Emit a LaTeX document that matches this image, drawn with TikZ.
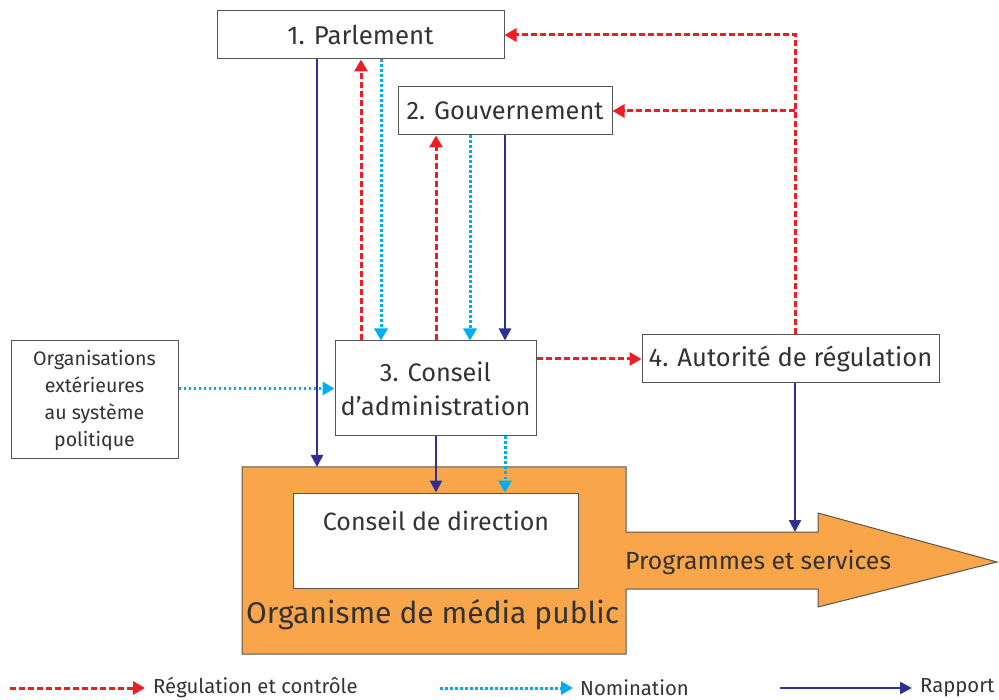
\documentclass[tikz,border=0pt]{standalone}
\usepackage{fontspec}
\setmainfont{Fira Sans}
\usetikzlibrary{arrows.meta,calc}
\definecolor{regred}{HTML}{EE1C25}
\definecolor{nomcyan}{HTML}{00AEEF}
\definecolor{rapblue}{HTML}{2E3192}
\definecolor{medorange}{HTML}{F9A54A}
\definecolor{txtgray}{HTML}{333333}
\definecolor{boxgray}{HTML}{555555}
\tikzset{
  box/.style={draw=boxgray, line width=1pt, fill=white, inner sep=0pt, text=txtgray, align=center},
  reg/.style={draw=regred, line width=3pt, dash pattern=on 6pt off 3pt, -{Triangle[length=12pt,width=13pt]}},
  nom/.style={draw=nomcyan, line width=3pt, dash pattern=on 2.5pt off 2.5pt, -{Triangle[length=12pt,width=13pt]}},
  rap/.style={draw=rapblue, line width=2.5pt, -{Triangle[length=12pt,width=12pt]}},
  lbl/.style={text=txtgray, inner sep=0pt},
}
\begin{document}
\begin{tikzpicture}[x=1pt,y=-1pt]
\useasboundingbox (0,0) rectangle (999,700);
% orange body
\draw[draw=boxgray, line width=1pt, fill=medorange]
  (242,467) -- (626,467) -- (626,532) -- (818,532) -- (818,513) -- (997,562)
  -- (818,607) -- (818,589) -- (626,589) -- (626,654) -- (242,654) -- cycle;
\coordinate (mediatop) at (317,467);
\coordinate (shafttop) at (795,532);
\node[box, minimum width=285pt, minimum height=95pt] (cdd) at (435.5,540.5) {};
\node[lbl, font=\fontsize{25}{29}\selectfont] (cddt) at (436,521) {Conseil de direction};
\node[lbl, font=\fontsize{30}{34}\selectfont, anchor=west] (medt) at (246,615) {Organisme de média public};
\node[lbl, font=\fontsize{24.8}{28}\selectfont, anchor=west] (prog) at (625,562) {Programmes et services};
% boxes
\node[box, minimum width=287pt, minimum height=48pt, font=\fontsize{25.8}{30}\selectfont] (parl) at (360.5,35) {1. Parlement};
\node[box, minimum width=214pt, minimum height=48pt, font=\fontsize{25.3}{30}\selectfont] (gouv) at (505,111) {2. Gouvernement};
\node[box, minimum width=167pt, minimum height=118pt, font=\fontsize{19.6}{27}\selectfont] (orgx) at (94.5,400) {Organisations\\extérieures\\au système\\politique};
\node[box, minimum width=201pt, minimum height=95pt, font=\fontsize{25.3}{34}\selectfont] (cons) at (435.5,388.5) {3. Conseil\\d’administration};
\node[box, minimum width=297pt, minimum height=48pt, font=\fontsize{25.6}{30}\selectfont] (autor) at (790.5,359) {4. Autorité de régulation};
% x positions
\coordinate (xa) at (317,0);
\coordinate (xb) at (361,0);
\coordinate (xc) at (381,0);
\coordinate (xd) at (436,0);
\coordinate (xe) at (470,0);
\coordinate (xf) at (505,0);
\coordinate (xr) at (795,0);
% connectors
\draw[rap] (parl.south -| xa) -- (mediatop);
\draw[reg] (cons.north -| xb) -- (parl.south -| xb);
\draw[nom] (parl.south -| xc) -- (cons.north -| xc);
\draw[reg] (cons.north -| xd) -- (gouv.south -| xd);
\draw[nom] (gouv.south -| xe) -- (cons.north -| xe);
\draw[rap] (gouv.south -| xf) -- (cons.north -| xf);
\draw[nom] (orgx.east |- cons.west) -- (cons.west);
\draw[reg] (cons.east |- autor.west) -- (autor.west);
\draw[rap] (cons.south -| xd) -- (cdd.north -| xd);
\draw[nom] (cons.south -| xf) -- (cdd.north -| xf);
\draw[reg] (autor.north -| xr) -- (xr |- parl.east) -- (parl.east);
\draw[reg] (xr |- gouv.east) -- (gouv.east);
\draw[rap] (autor.south -| xr) -- (shafttop);
% legend
\coordinate (l1a) at (10,688); \coordinate (l1b) at (145,688);
\coordinate (l2a) at (440,688); \coordinate (l2b) at (573,688);
\coordinate (l3a) at (780,688); \coordinate (l3b) at (912,688);
\draw[reg] (l1a) -- (l1b);
\draw[nom] (l2a) -- (l2b);
\draw[rap] (l3a) -- (l3b);
\node[lbl, anchor=west, font=\fontsize{20.3}{24}\selectfont] (t1) at (153,688) {Régulation et contrôle};
\node[lbl, anchor=west, font=\fontsize{20.3}{24}\selectfont] (t2) at (580,688) {Nomination};
\node[lbl, anchor=west, font=\fontsize{20.3}{24}\selectfont] (t3) at (920,688) {Rapport};
\end{tikzpicture}
\end{document}
